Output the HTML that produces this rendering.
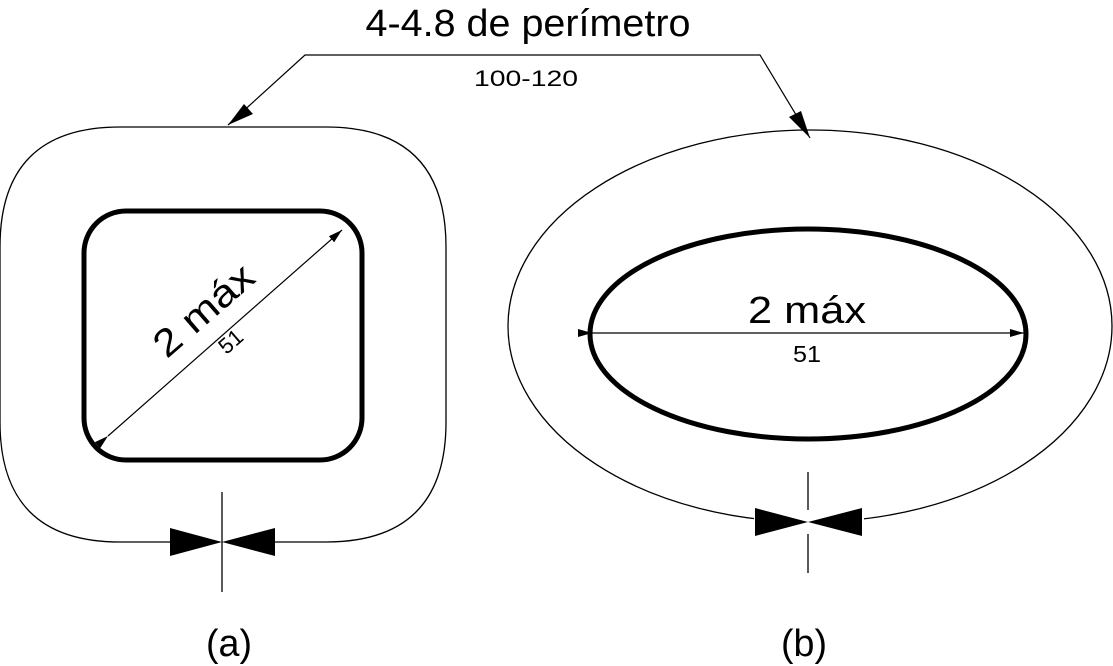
<!DOCTYPE html>
<html><head><meta charset="utf-8"><style>
html,body{margin:0;padding:0;background:#fff;}
svg{display:block;}
text{font-family:"Liberation Sans",sans-serif;fill:#000;}
</style></head><body>
<svg width="1113" height="666" viewBox="0 0 1113 666" xmlns="http://www.w3.org/2000/svg">
<defs>
<marker id="ar" markerWidth="14" markerHeight="8" refX="14" refY="4" orient="auto" markerUnits="userSpaceOnUse">
<path d="M0,0 L14,4 L0,8 Z" fill="#000"/></marker>
</defs>
<path d="M170,542 L120,542 Q0,542 0,422 L0,247 Q0,127 120,127 L326,127 Q446,127 446,247 L446,422 Q446,542 326,542 L275,542" fill="none" stroke="#000" stroke-width="1.3"/>
<rect x="84" y="211" width="278" height="249" rx="42" ry="42" fill="none" stroke="#000" stroke-width="5"/>
<line x1="222" y1="492" x2="222" y2="592" stroke="#000" stroke-width="1.3"/>
<path d="M170,528 L222,542 L170,556 Z M275,528 L222,542 L275,556 Z" fill="#000"/>
<line x1="108" y1="436" x2="342" y2="230" stroke="#000" stroke-width="1.2" marker-start="url(#ar)" marker-end="url(#ar)"/>
<g transform="translate(212,320) rotate(-41)">
<text x="0" y="0" font-size="38" text-anchor="middle" textLength="120" lengthAdjust="spacingAndGlyphs">2 máx</text>
<text x="0" y="36" font-size="22" text-anchor="middle">51</text>
</g>
<ellipse cx="810" cy="326" rx="302" ry="196" fill="none" stroke="#000" stroke-width="1.3"/>
<ellipse cx="808" cy="334" rx="218" ry="105" fill="none" stroke="#000" stroke-width="5"/>
<line x1="592" y1="333" x2="1024" y2="333" stroke="#000" stroke-width="1.2" marker-start="url(#ar)" marker-end="url(#ar)"/>
<text x="807" y="323" font-size="38" text-anchor="middle" textLength="118" lengthAdjust="spacingAndGlyphs">2 máx</text>
<text x="807" y="362" font-size="23" text-anchor="middle" textLength="28" lengthAdjust="spacingAndGlyphs">51</text>
<line x1="808" y1="472" x2="808" y2="573" stroke="#000" stroke-width="1.3"/>
<rect x="754" y="510" width="110" height="24" fill="#fff"/>
<path d="M755,508 L808,522 L755,536 Z M862,508 L808,522 L862,536 Z" fill="#000"/>
<polyline points="228,125 305,55 760,55 810,138" fill="none" stroke="#000" stroke-width="1.2"/>
<path d="M228,125 L244,104 L253,114 Z" fill="#000"/>
<path d="M810,138 L789,117 L801,111 Z" fill="#000"/>
<text x="528" y="36" font-size="38" text-anchor="middle" textLength="325" lengthAdjust="spacingAndGlyphs">4-4.8 de perímetro</text>
<text x="526" y="86" font-size="22" text-anchor="middle" textLength="104" lengthAdjust="spacingAndGlyphs">100-120</text>
<text x="229" y="656" font-size="38" text-anchor="middle" textLength="46" lengthAdjust="spacingAndGlyphs">(a)</text>
<text x="804" y="656" font-size="38" text-anchor="middle" textLength="46" lengthAdjust="spacingAndGlyphs">(b)</text>
</svg>
</body></html>
